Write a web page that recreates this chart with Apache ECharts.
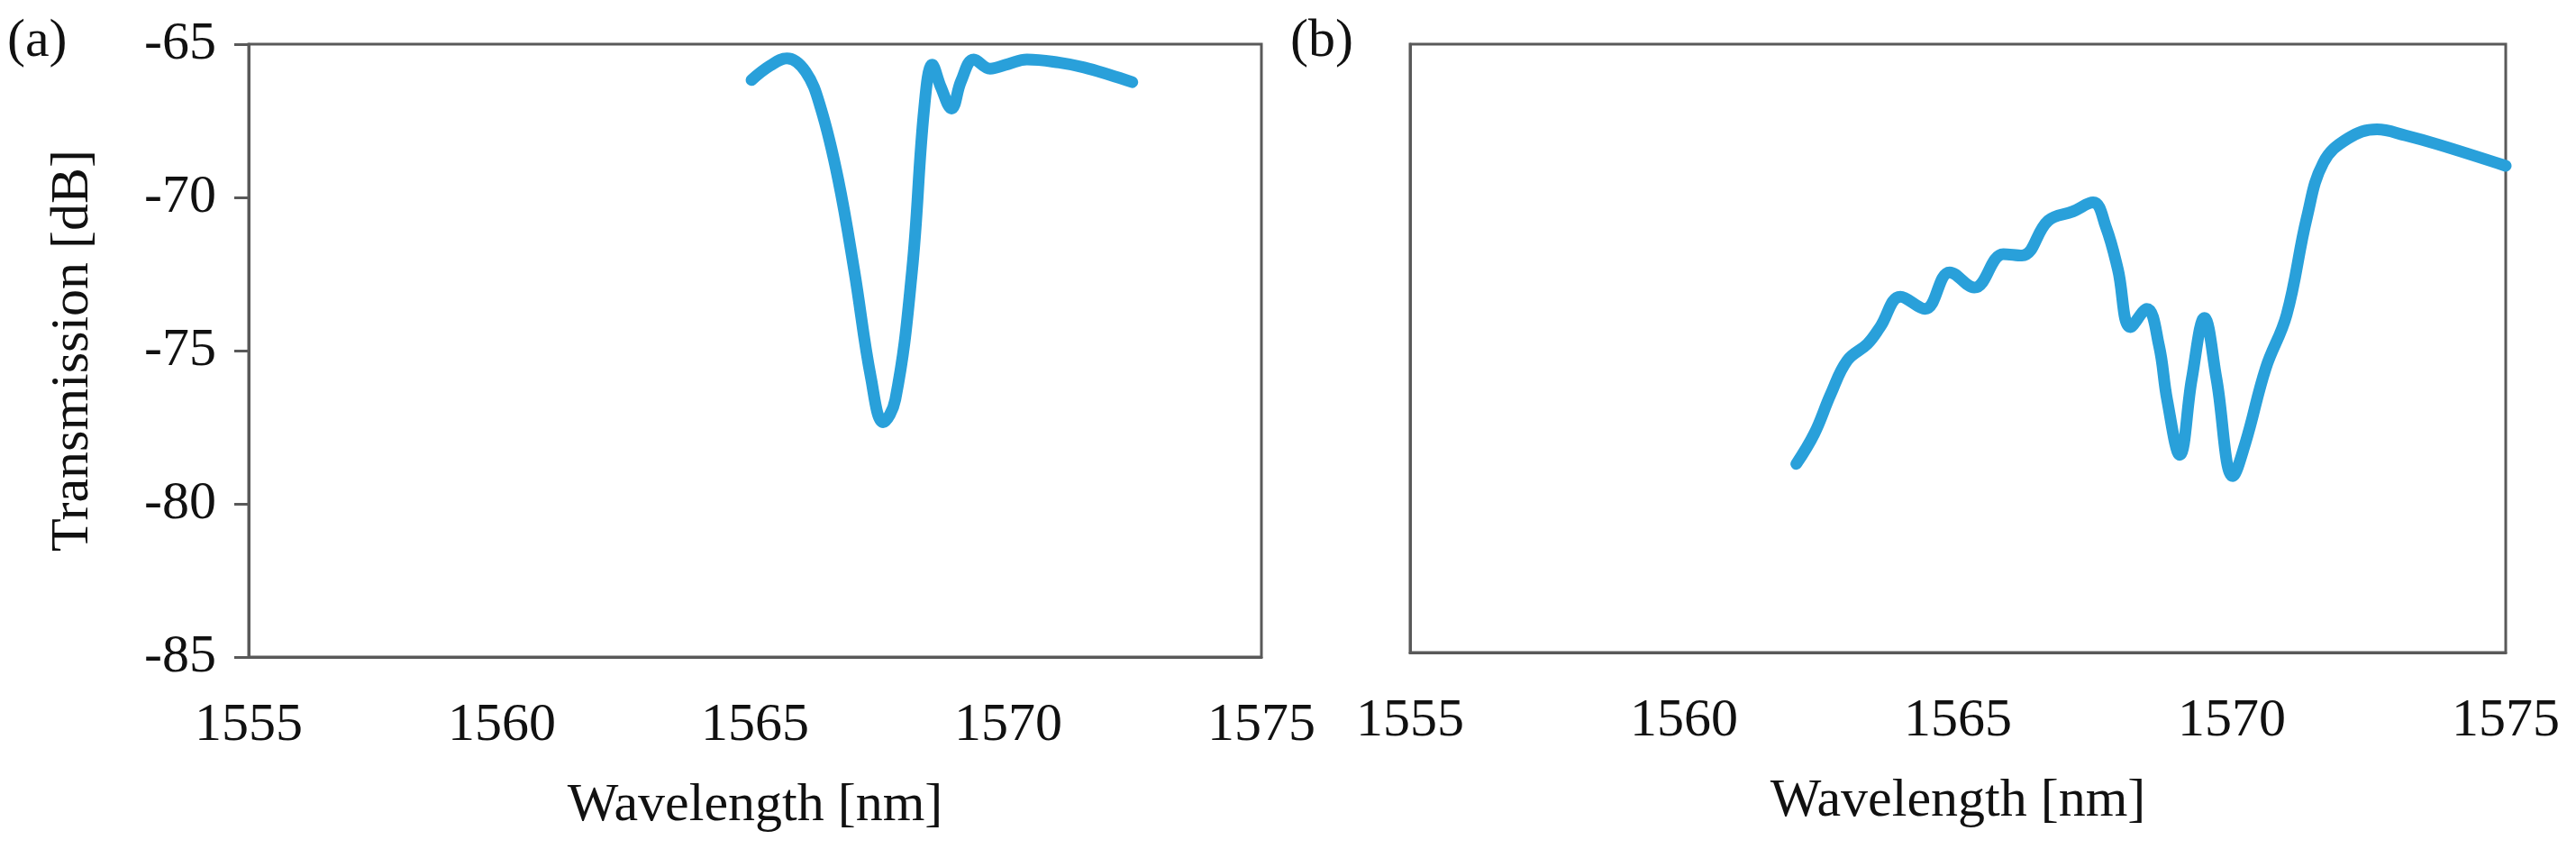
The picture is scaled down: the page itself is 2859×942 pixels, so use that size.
<!DOCTYPE html>
<html><head><meta charset="utf-8">
<script src="https://cdn.jsdelivr.net/npm/echarts@6/dist/echarts.min.js"></script>
<style>html,body{margin:0;padding:0;background:#fff}#c{width:2859px;height:942px}</style>
</head><body><div id="c"></div>
<script>
const xTicks = [1555, 1560, 1565, 1570, 1575];
const yTicks = [-65, -70, -75, -80, -85];
const aWave = [1564.93,1565.3,1565.63,1566.0,1566.3,1566.64,1566.96,1567.29,1567.53,1567.77,1568.1,1568.34,1568.5,1568.67,1568.88,1569.07,1569.32,1569.64,1570.0,1570.37,1571.0,1571.5,1572.0,1572.45];
const aTrans = [-66.17,-65.7,-65.46,-65.9,-67.1,-69.4,-72.4,-75.9,-77.34,-76.6,-72.4,-67.1,-65.67,-66.4,-67.1,-66.2,-65.5,-65.8,-65.65,-65.5,-65.6,-65.76,-66.0,-66.24];
const bWave = [1562.05,1562.38,1562.68,1562.98,1563.35,1563.58,1563.95,1564.4,1564.85,1565.3,1565.83,1566.17,1566.65,1567.1,1567.47,1567.7,1567.92,1568.15,1568.45,1568.67,1568.82,1569.05,1569.27,1569.5,1569.72,1570.02,1570.25,1570.62,1571.0,1571.37,1571.67,1572.12,1572.65,1573.17,1573.77,1575.0];
const bTrans = [-78.8,-77.8,-76.5,-75.4,-74.85,-74.3,-73.3,-73.7,-72.5,-73.0,-71.9,-71.95,-70.8,-70.5,-70.2,-71.0,-72.4,-74.3,-73.7,-74.9,-76.7,-78.5,-76.0,-74.0,-76.0,-79.2,-78.1,-75.65,-73.9,-70.7,-68.9,-68.1,-67.8,-68.0,-68.3,-69.0];

const font = 'Liberation Serif';
const txt = {fontFamily: font, fontSize: 60, color: '#111'};
const axisLine = {show: true, lineStyle: {color: '#595959', width: 3}};
function xAx(i){return {type:'value', gridIndex:i, min:1555, max:1575, interval:5,
  name:'Wavelength [nm]', nameLocation:'middle', nameGap:135, nameTextStyle:txt,
  axisLine:axisLine, axisTick:{show:false}, splitLine:{show:false},
  axisLabel:Object.assign({margin:46, formatter: v => xTicks.includes(v) ? String(v) : ''}, txt)};}
const chart = echarts.init(document.getElementById('c'));
chart.setOption({
  animation:false,
  grid:[
    {left:276, width:1124, top:49, height:680, show:true, borderColor:'#595959', borderWidth:3},
    {left:1565, width:1216, top:49, height:675, show:true, borderColor:'#595959', borderWidth:3}
  ],
  xAxis:[xAx(0), xAx(1)],
  yAxis:[
    {type:'value', gridIndex:0, min:-85, max:-65, interval:5, name:'Transmission [dB]', nameLocation:'middle', nameGap:165, nameTextStyle:txt,
     axisLine:axisLine, axisTick:{show:true, length:16, lineStyle:{color:'#595959', width:3}}, splitLine:{show:false},
     axisLabel:Object.assign({margin:36, formatter: v => yTicks.includes(v) ? String(v) : ''}, txt)},
    {type:'value', gridIndex:1, min:-85, max:-65, interval:5, axisLine:axisLine, axisTick:{show:false}, axisLabel:{show:false}, splitLine:{show:false}}
  ],
  graphic:[
    {type:'text', left:8, top:16, style:{text:'(a)', font:'60px "Liberation Serif"', fill:'#111'}},
    {type:'text', left:1432, top:16, style:{text:'(b)', font:'60px "Liberation Serif"', fill:'#111'}}
  ],
  series:[
    {type:'line', xAxisIndex:0, yAxisIndex:0, data:aWave.map((w,i)=>[w,aTrans[i]]), smooth:0.4, showSymbol:false, lineStyle:{color:'#29A0DA', width:13, cap:'round', join:'round'}},
    {type:'line', xAxisIndex:1, yAxisIndex:1, data:bWave.map((w,i)=>[w,bTrans[i]]), smooth:0.4, showSymbol:false, lineStyle:{color:'#29A0DA', width:13, cap:'round', join:'round'}}
  ]
});
</script></body></html>
